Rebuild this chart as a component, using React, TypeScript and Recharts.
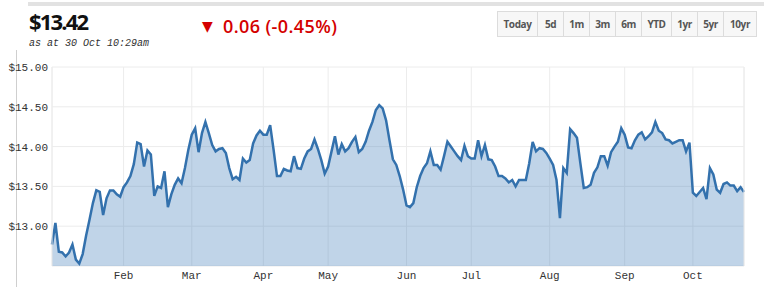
import React from "react";
import {
  AreaChart,
  Area,
  XAxis,
  YAxis,
  CartesianGrid,
  ReferenceLine,
} from "recharts";

// daily closes, one array per month
const jan = [12.77, 13.04, 12.68, 12.67, 12.62, 12.67, 12.77, 12.58, 12.53, 12.65, 12.88, 13.08, 13.29, 13.45, 13.43, 13.14, 13.35, 13.45, 13.45, 13.4, 13.37];
const feb = [13.49, 13.55, 13.63, 13.78, 14.05, 14.03, 13.75, 13.95, 13.9, 13.38, 13.5, 13.48, 13.69, 13.24, 13.4, 13.52, 13.6, 13.54, 13.73, 13.96];
const mar = [14.15, 14.23, 13.93, 14.17, 14.31, 14.17, 14.02, 13.94, 13.97, 13.98, 13.92, 13.73, 13.59, 13.62, 13.58, 13.85, 13.8, 13.83, 14.04, 14.14, 14.2];
const apr = [14.15, 14.15, 14.27, 13.96, 13.63, 13.63, 13.72, 13.7, 13.69, 13.88, 13.73, 13.72, 13.85, 13.94, 13.97, 14.09, 13.97, 13.83, 13.66];
const may = [13.75, 13.94, 14.13, 13.9, 14.03, 13.94, 13.98, 14.06, 14.12, 13.93, 13.97, 14.06, 14.2, 14.31, 14.46, 14.52, 14.48, 14.33, 14.08, 13.84, 13.77, 13.63, 13.46];
const jun = [13.26, 13.24, 13.29, 13.49, 13.63, 13.73, 13.79, 13.94, 13.77, 13.77, 13.71, 13.88, 14.06, 14.0, 13.94, 13.88, 13.83, 14.01, 13.88];
const jul = [13.85, 13.85, 14.08, 13.88, 14.02, 13.84, 13.83, 13.75, 13.63, 13.63, 13.6, 13.55, 13.58, 13.5, 13.58, 13.58, 13.58, 13.79, 14.06, 13.94, 13.98, 13.97, 13.92];
const aug = [13.85, 13.77, 13.58, 13.1, 13.73, 13.67, 14.22, 14.17, 14.11, 13.79, 13.48, 13.49, 13.52, 13.67, 13.74, 13.88, 13.88, 13.76, 13.93, 14.0, 14.06, 14.23];
const sep = [14.15, 13.99, 13.98, 14.08, 14.15, 14.18, 14.09, 14.13, 14.18, 14.31, 14.2, 14.17, 14.09, 14.08, 14.04, 14.06, 14.08, 14.08, 13.94, 14.05];
const oct = [13.42, 13.38, 13.43, 13.48, 13.34, 13.73, 13.65, 13.46, 13.42, 13.53, 13.55, 13.51, 13.51, 13.44, 13.49, 13.43];

const months = [jan, feb, mar, apr, may, jun, jul, aug, sep, oct];
const monthNames = ["Jan", "Feb", "Mar", "Apr", "May", "Jun", "Jul", "Aug", "Sep", "Oct"];
const priceTicks = [13, 13.5, 14, 14.5, 15];
const ranges = ["Today", "5d", "1m", "3m", "6m", "YTD", "1yr", "5yr", "10yr"];
const rangeWidths = [41, 27, 27, 27, 27, 31, 27, 27, 34];

const data: { i: number; v: number }[] = [];
const monthStarts: number[] = [];
months.forEach((m) => {
  monthStarts.push(data.length);
  m.forEach((v) => data.push({ i: data.length, v }));
});
const xTicks = monthStarts.slice(1);
const lastIdx = data.length - 1;

const mono = "'Liberation Mono', 'DejaVu Sans Mono', monospace";
const gridColor = "#ececec";

export default function App() {
  return (
    <div
      style={{
        position: "absolute",
        left: 0,
        top: 0,
        width: 771,
        height: 287,
        background: "#fff",
        overflow: "hidden",
        fontFamily: "'Open Sans', sans-serif",
      }}
    >
      <div style={{ position: "absolute", left: 28, top: 2, width: 736, height: 4, background: "#e2e2e2" }} />
      <div style={{ position: "absolute", left: 16, top: 50, width: 1, height: 237, background: "#cfcfcf" }} />

      <div
        style={{
          position: "absolute",
          left: 29,
          top: 6,
          fontSize: 22,
          fontWeight: 700,
          letterSpacing: -1.8,
          color: "#111",
          lineHeight: "30px",
        }}
      >
        $13.42
      </div>
      <div
        style={{
          position: "absolute",
          left: 29,
          top: 38,
          fontSize: 10,
          fontStyle: "italic",
          fontFamily: mono,
          color: "#333",
          lineHeight: "12px",
        }}
      >
        as at 30 Oct 10:29am
      </div>

      <div style={{ position: "absolute", left: 202, top: 16, fontSize: 14, color: "#d40000", fontFamily: "'DejaVu Sans', sans-serif", lineHeight: "20px" }}>
        ▼
      </div>
      <div
        style={{
          position: "absolute",
          left: 223,
          top: 14,
          fontSize: 18,
          fontWeight: 600,
          letterSpacing: 0.4,
          color: "#d40000",
          lineHeight: "24px",
        }}
      >
        0.06 (-0.45%)
      </div>

      <div style={{ position: "absolute", left: 497, top: 11, display: "flex" }}>
        {ranges.map((r, k) => (
          <div
            key={r}
            style={{
              width: rangeWidths[k],
              height: 26,
              boxSizing: "border-box",
              border: "1px solid #dcdcdc",
              marginLeft: k === 0 ? 0 : -1,
              background: "#f7f7f7",
              color: "#555",
              fontSize: 10,
              fontWeight: 700,
              letterSpacing: -0.4,
              display: "flex",
              alignItems: "center",
              justifyContent: "center",
            }}
          >
            {r}
          </div>
        ))}
      </div>

      <div style={{ position: "absolute", left: 0, top: 0 }}>
        <AreaChart
          width={771}
          height={287}
          data={data}
          margin={{ top: 67, right: 27, bottom: 0, left: 0 }}
        >
          <CartesianGrid stroke={gridColor} strokeWidth={1} />
          <ReferenceLine x={0} stroke={gridColor} />
          <ReferenceLine x={lastIdx} stroke={gridColor} />
          <XAxis
            dataKey="i"
            type="number"
            domain={[0, lastIdx]}
            ticks={xTicks}
            tickFormatter={(v: number) => monthNames[monthStarts.indexOf(v)]}
            axisLine={false}
            tickLine={false}
            tickSize={0}
            tickMargin={5}
            height={21}
            interval={0}
            tick={{ fill: "#333", fontSize: 11, fontFamily: mono }}
          />
          <YAxis
            type="number"
            domain={[12.5, 15]}
            ticks={priceTicks}
            tickFormatter={(v: number) => `$${v.toFixed(2)}`}
            axisLine={false}
            tickLine={false}
            tickSize={0}
            tickMargin={4}
            width={52}
            interval={0}
            tick={{ fill: "#333", fontSize: 11, fontFamily: mono }}
          />
          <Area
            type="linear"
            dataKey="v"
            stroke="#3371ad"
            strokeWidth={2.5}
            fill="#3a78b8"
            fillOpacity={0.32}
            dot={false}
            activeDot={false}
            isAnimationActive={false}
          />
        </AreaChart>
      </div>
    </div>
  );
}
